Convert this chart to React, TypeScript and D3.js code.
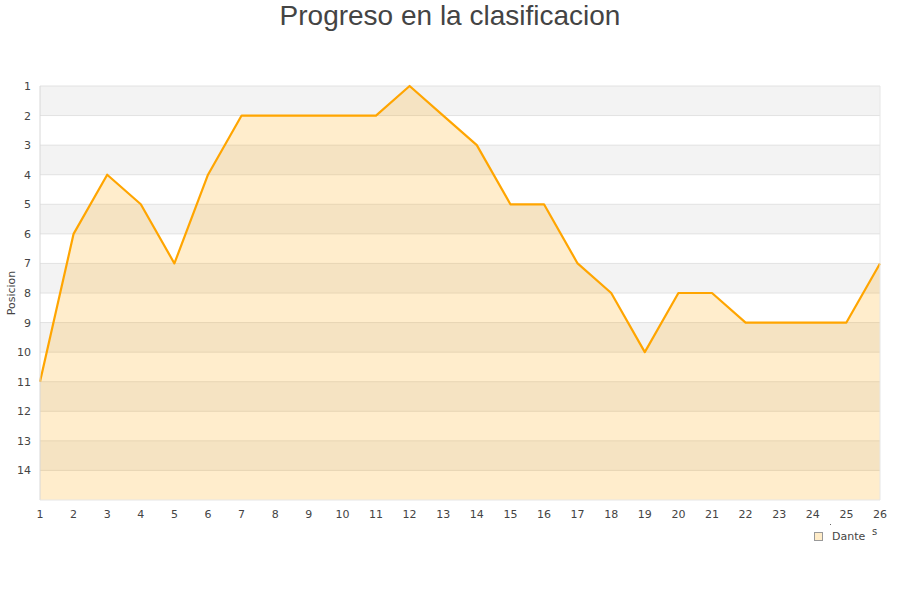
import React from "react";
import * as d3 from "d3";

const jornadas = [1, 2, 3, 4, 5, 6, 7, 8, 9, 10, 11, 12, 13, 14, 15, 16, 17, 18, 19, 20, 21, 22, 23, 24, 25, 26];
const posiciones = [11, 6, 4, 5, 7, 4, 2, 2, 2, 2, 2, 1, 2, 3, 5, 5, 7, 8, 10, 8, 8, 9, 9, 9, 9, 7];
const yTicks = [1, 2, 3, 4, 5, 6, 7, 8, 9, 10, 11, 12, 13, 14];

const W = 900;
const H = 600;
const left = 40;
const right = 880;
const top = 86;
const bottom = 500;
const font = "DejaVu Sans, sans-serif";

const App: React.FC = () => {
  const x = d3.scaleLinear().domain([1, 26]).range([left, right]);
  const y = d3.scaleLinear().domain([1, 15]).range([top, bottom]);

  const pts = jornadas.map((j, i) => [j, posiciones[i]] as [number, number]);
  const line = d3.line<[number, number]>().x((d) => x(d[0])).y((d) => y(d[1]));
  const area = d3
    .area<[number, number]>()
    .x((d) => x(d[0]))
    .y0(bottom)
    .y1((d) => y(d[1]));

  return (
    <svg width={W} height={H} style={{ position: "absolute", left: 0, top: 0 }}>
      <rect width={W} height={H} fill="#fff" />
      <text x={450} y={25} textAnchor="middle" fontFamily="Liberation Sans, Arial, sans-serif" fontSize={28} fill="#444">
        Progreso en la clasificacion
      </text>

      {yTicks.map((t, i) =>
        i % 2 === 0 ? (
          <rect key={"b" + t} x={left} y={y(t)} width={right - left} height={y(t + 1) - y(t)} fill="#f3f3f3" />
        ) : null
      )}
      {yTicks.map((t) => (
        <line key={"g" + t} x1={left} x2={right} y1={y(t)} y2={y(t)} stroke="#e2e2e2" strokeWidth={1} />
      ))}

      <path d={area(pts)!} fill="#ffa500" fillOpacity={0.2} />
      <path d={line(pts)!} fill="none" stroke="#ffa500" strokeWidth={2.2} strokeLinejoin="round" />

      <line x1={left} x2={left} y1={top} y2={bottom} stroke="#d8d8d8" />
      <line x1={right} x2={right} y1={top} y2={bottom} stroke="#e6e6e6" />
      <line x1={left} x2={right} y1={bottom} y2={bottom} stroke="#e6e6e6" />

      {yTicks.map((t) => (
        <text key={"yl" + t} x={31} y={y(t) + 4} textAnchor="end" fontFamily={font} fontSize={11} fill="#444">
          {t}
        </text>
      ))}
      {jornadas.map((j) => (
        <text key={"xl" + j} x={x(j)} y={518} textAnchor="middle" fontFamily={font} fontSize={11} fill="#444">
          {j}
        </text>
      ))}

      <text
        transform={`translate(15,${(top + bottom) / 2}) rotate(-90)`}
        textAnchor="middle"
        fontFamily={font}
        fontSize={11}
        fill="#444"
      >
        Posicion
      </text>

      <text x={872} y={535} fontFamily={font} fontSize={10} fill="#444">s</text>
      <rect x={830} y={524} width={1} height={1} fill="#666" />

      <rect x={814.5} y={532.5} width={8} height={8} fill="#ffecc8" stroke="#999" />
      <text x={832} y={540} fontFamily={font} fontSize={11} fill="#444">
        Dante
      </text>
    </svg>
  );
};

export default App;
